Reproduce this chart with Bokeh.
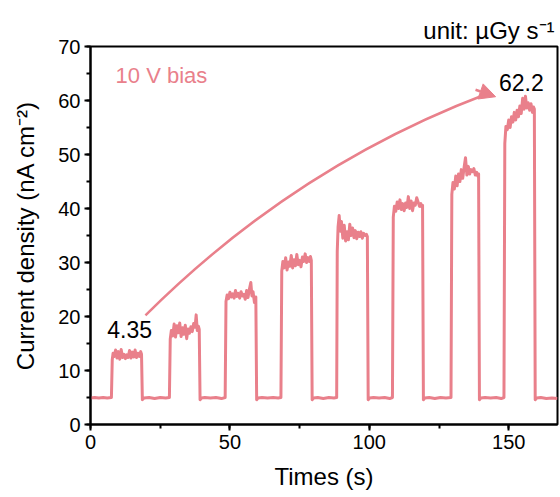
from bokeh.plotting import figure
from bokeh.models import Range1d, SingleIntervalTicker, Label, Arrow, NormalHead
from bokeh.embed import file_html
from bokeh.resources import INLINE

# ---- data (time in s, current density in nA cm^-2) ----
base0_t = [0, 1.5, 3, 4.5, 6, 7.5]
base0_j = [4.9, 5.0, 4.9, 5.0, 4.9, 5.0]

p1_t = [7.8, 8.1, 8.5, 9.0, 9.5, 10.0, 10.5, 11.0, 11.5, 12.0, 12.5, 13.0, 13.5, 14.0, 14.5, 15.0, 15.5, 16.0, 16.5, 17.0, 17.5, 18.0, 18.3]
p1_j = [12.0, 13.2, 12.6, 13.8, 12.3, 13.5, 12.1, 13.9, 12.4, 13.0, 12.2, 12.9, 12.4, 13.7, 12.3, 13.4, 12.5, 13.8, 12.4, 13.2, 12.6, 13.5, 13.0]
b1_t = [18.6, 19.2, 21, 23, 25, 27, 28.3]
b1_j = [4.6, 4.9, 5.0, 4.8, 5.0, 4.9, 5.0]

p2_t = [28.6, 29.0, 29.5, 30.0, 30.5, 31.0, 31.5, 32.0, 32.5, 33.0, 33.5, 34.0, 34.5, 35.0, 35.5, 36.0, 36.5, 37.0, 37.5, 37.9, 38.3, 38.7, 39.0]
p2_j = [15.8, 17.4, 16.4, 18.6, 16.2, 18.3, 17.0, 18.8, 16.3, 17.9, 16.7, 18.4, 15.9, 17.7, 16.9, 18.1, 17.2, 18.7, 18.0, 20.3, 17.4, 18.2, 17.6]
b2_t = [39.3, 39.8, 41, 43, 45, 47, 48.3]
b2_j = [4.6, 4.9, 5.0, 4.9, 5.0, 4.8, 5.0]

p3_t = [48.6, 49.0, 49.5, 50.0, 50.5, 51.0, 51.5, 52.0, 52.5, 53.0, 53.5, 54.0, 54.5, 55.0, 55.5, 56.0, 56.5, 57.0, 57.5, 57.9, 58.3, 58.8, 59.3]
p3_j = [22.8, 24.0, 23.3, 24.5, 23.6, 24.2, 23.4, 24.8, 23.7, 24.3, 23.4, 24.6, 23.8, 24.1, 23.2, 24.8, 23.5, 25.1, 26.3, 23.8, 24.6, 22.6, 23.6]
b3_t = [59.6, 60.1, 61.5, 63.5, 65.5, 67.3, 68.3]
b3_j = [4.6, 4.9, 5.0, 4.9, 5.0, 4.9, 5.0]

p4_t = [68.6, 69.0, 69.5, 70.0, 70.5, 71.0, 71.5, 72.0, 72.5, 73.0, 73.5, 74.0, 74.5, 75.0, 75.5, 76.0, 76.5, 77.0, 77.5, 78.0, 78.5, 78.9, 79.2]
p4_j = [28.4, 30.2, 29.0, 30.9, 28.6, 30.1, 29.3, 31.3, 29.0, 30.5, 29.4, 31.5, 29.6, 30.4, 29.2, 31.0, 30.2, 31.6, 30.0, 30.9, 30.2, 31.1, 30.4]
b4_t = [79.5, 80.0, 81.5, 83.5, 85.5, 87.3, 88.3]
b4_j = [4.6, 4.9, 5.0, 4.8, 5.0, 4.9, 5.0]

p5_t = [88.5, 88.8, 89.2, 89.6, 90.0, 90.5, 91.0, 91.5, 92.0, 92.5, 93.0, 93.5, 94.0, 94.5, 95.0, 95.5, 96.0, 96.5, 97.0, 97.5, 98.0, 98.5, 99.0, 99.3]
p5_j = [32.0, 36.6, 38.7, 35.8, 37.6, 34.5, 36.9, 34.0, 35.7, 34.2, 37.1, 35.0, 36.4, 34.6, 35.9, 34.4, 35.6, 34.8, 35.7, 34.5, 35.4, 35.0, 35.2, 34.8]
b5_t = [99.6, 100.1, 101.5, 103.5, 105.5, 107.3, 108.3]
b5_j = [4.6, 4.9, 5.0, 4.9, 5.0, 4.8, 5.0]

p6_t = [108.6, 109.0, 109.5, 110.0, 110.5, 111.0, 111.5, 112.0, 112.5, 113.0, 113.5, 114.0, 114.5, 115.0, 115.5, 116.0, 116.5, 117.0, 117.5, 118.0, 118.5, 118.8, 119.1]
p6_j = [38.4, 40.4, 39.5, 41.2, 40.0, 41.6, 39.8, 40.9, 39.6, 41.0, 40.2, 42.2, 40.0, 41.4, 39.6, 41.0, 40.6, 42.0, 41.2, 40.4, 40.9, 40.3, 40.6]
b6_t = [119.4, 119.9, 121.5, 123.5, 125.5, 127.5, 129.3]
b6_j = [4.6, 4.9, 5.0, 4.8, 5.0, 4.9, 5.0]

p7_t = [129.6, 130.0, 130.5, 131.0, 131.5, 132.0, 132.5, 133.0, 133.5, 134.0, 134.5, 135.0, 135.5, 136.0, 136.5, 137.0, 137.5, 138.0, 138.5, 138.9, 139.2]
p7_j = [42.6, 44.8, 43.6, 46.0, 44.2, 46.4, 45.0, 47.2, 45.6, 47.6, 49.4, 46.2, 47.8, 46.4, 47.2, 46.8, 47.4, 46.2, 46.7, 46.0, 46.4]
b7_t = [139.5, 140.0, 141.5, 143.5, 145.5, 147.3, 148.3]
b7_j = [4.6, 4.9, 5.0, 4.9, 5.0, 4.8, 5.0]

p8_t = [148.6, 149.0, 149.5, 150.0, 150.5, 151.0, 151.5, 152.0, 152.5, 153.0, 153.5, 154.0, 154.5, 155.0, 155.5, 156.0, 156.5, 157.0, 157.5, 158.0, 158.5, 158.9, 159.2]
p8_j = [52.0, 55.2, 54.6, 56.4, 55.0, 57.0, 56.0, 57.8, 56.4, 58.2, 57.0, 59.0, 57.6, 60.4, 58.4, 60.8, 58.6, 59.6, 58.2, 59.4, 57.8, 58.8, 58.4]
b8_t = [159.5, 160.0, 161.5, 163.5, 165.5, 167.5]
b8_j = [4.6, 4.9, 5.0, 4.8, 4.9, 4.8]

first_value = "4.35"
last_value = "62.2"
bias_text = "10 V bias"
unit_text = "unit: µGy s⁻¹"
x_ticks_interval = 50
y_ticks_interval = 10

segments_t = [base0_t, p1_t, b1_t, p2_t, b2_t, p3_t, b3_t, p4_t, b4_t,
              p5_t, b5_t, p6_t, b6_t, p7_t, b7_t, p8_t, b8_t]
segments_j = [base0_j, p1_j, b1_j, p2_j, b2_j, p3_j, b3_j, p4_j, b4_j,
              p5_j, b5_j, p6_j, b6_j, p7_j, b7_j, p8_j, b8_j]
t_all, j_all = [], []
for ts, js in zip(segments_t, segments_j):
    t_all += ts
    j_all += js

PINK = "#E9808B"
FONT = "Liberation Sans"

p = figure(frame_width=467, frame_height=378,
           output_backend="svg", toolbar_location=None,
           x_range=Range1d(0, 167.5), y_range=Range1d(0, 70),
           min_border_left=90, min_border_right=3,
           min_border_top=46, min_border_bottom=73)
p.xgrid.visible = False
p.ygrid.visible = False
p.outline_line_color = "black"
p.outline_line_width = 2
p.outline_line_alpha = 1
p.background_fill_color = "white"
p.border_fill_color = "white"

p.title.text = unit_text
p.title.align = "right"
p.title.text_font = FONT
p.title.text_font_size = "24px"
p.title.text_font_style = "normal"
p.title.text_color = "black"
p.title.standoff = 6
p.title.offset = 3

p.xaxis.ticker = SingleIntervalTicker(interval=x_ticks_interval, num_minor_ticks=2)
p.yaxis.ticker = SingleIntervalTicker(interval=y_ticks_interval, num_minor_ticks=2)
for ax in (p.xaxis[0], p.yaxis[0]):
    ax.axis_line_width = 2
    ax.axis_line_color = "black"
    ax.major_tick_line_width = 2
    ax.minor_tick_line_width = 2
    ax.major_tick_out = 6
    ax.major_tick_in = 0
    ax.minor_tick_out = 4
    ax.minor_tick_in = 0
    ax.major_label_text_font = FONT
    ax.major_label_text_font_size = "20px"
    ax.major_label_text_color = "black"
    ax.axis_label_text_font = FONT
    ax.axis_label_text_font_size = "24px"
    ax.axis_label_text_font_style = "normal"
    ax.axis_label_text_color = "black"
    ax.major_label_standoff = 4

p.xaxis.axis_label = "Times (s)"
p.yaxis.axis_label = "Current density (nA cm⁻²)"
p.xaxis.axis_label_standoff = 11
p.yaxis.axis_label_standoff = 16

p.line(t_all, j_all, line_color=PINK, line_width=3, line_join="round")

# curved arrow
arrow_start = (19.7, 20.2)
arrow_ctrl = (73.3, 47.8)
arrow_tip = (145.3, 60.7)
p.quadratic(x0=[arrow_start[0]], y0=[arrow_start[1]], x1=[arrow_tip[0] - 3.0], y1=[arrow_tip[1] + 0.55],
            cx=[arrow_ctrl[0]], cy=[arrow_ctrl[1]], line_color=PINK, line_width=2.5)
p.add_layout(Arrow(end=NormalHead(size=16, fill_color=PINK, line_color=PINK, line_width=1),
                   x_start=arrow_tip[0] - 7.2, y_start=arrow_tip[1] + 1.3,
                   x_end=arrow_tip[0], y_end=arrow_tip[1],
                   line_color=PINK, line_width=2.5))

p.add_layout(Label(x=6.0, y=17.6, text=first_value, text_font=FONT, text_font_size="23px",
                   text_color="black", text_baseline="alphabetic"))
p.add_layout(Label(x=146.5, y=63.3, text=last_value, text_font=FONT, text_font_size="23px",
                   text_color="black", text_baseline="alphabetic"))
p.add_layout(Label(x=9.0, y=64.6, text=bias_text, text_font=FONT, text_font_size="22px",
                   text_color=PINK, text_baseline="alphabetic"))

open("out.html", "w").write(file_html(p, INLINE))
